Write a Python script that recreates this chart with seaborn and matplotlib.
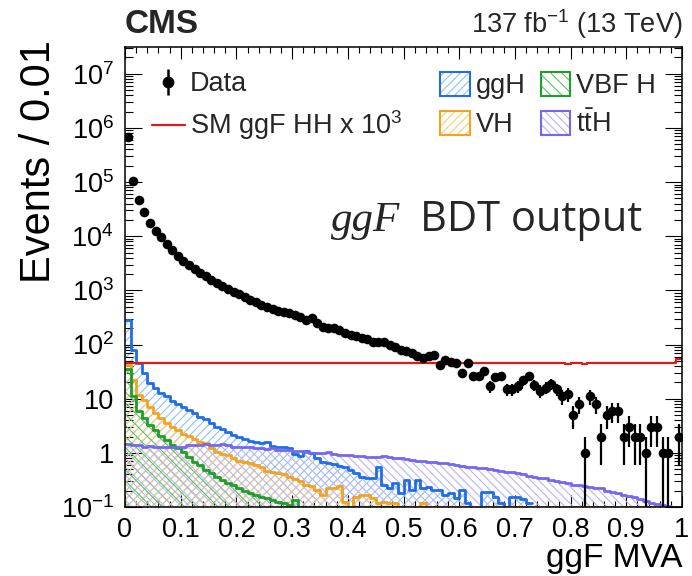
import numpy as np
import matplotlib
matplotlib.use("Agg")
import matplotlib.pyplot as plt
import matplotlib.ticker as mticker
from matplotlib.patches import Patch
from matplotlib.lines import Line2D
from matplotlib.legend_handler import HandlerTuple
import seaborn as sns

# ---- binning: 100 bins of width 0.01 on the ggF MVA score ----
bin_edges = np.linspace(0.0, 1.0, 101)
bin_centers = 0.5 * (bin_edges[:-1] + bin_edges[1:])

data_counts = [
    680000, 105000, 47000, 28000, 17500, 12300, 9500, 7270, 5470, 4360,
    3530, 2970, 2480, 2090, 1810, 1570, 1360, 1230, 1070, 942,
    840, 740, 670, 608, 542, 491, 451, 425, 402, 380,
    354, 321, 286, 303, 255, 215, 206, 204, 187, 164,
    151, 145, 133, 125, 110, 110, 113, 99, 89, 80,
    77, 71, 62, 56, 62, 64, 42, 51, 48, 46,
    30, 45, 26, 26, 33, 17, 25, 26, 15, 15,
    17, 22, 26, 18, 14, 16, 19, 15, 11, 12,
    5, 8, 1, 11, 8, 2, 5, 6, 6, 2,
    3, 2, 2, 1, 3, 3, 1, 1, 0, 2,
]

sm_hh_x1000 = [46.4] * 100
sm_hh_x1000[79] = 44.5
sm_hh_x1000[82] = 44.5
sm_hh_x1000[99] = 54.0

ggh = [
    286, 80, 46, 30, 19.4, 15.6, 12.6, 11, 9.2, 8,
    7, 6.2, 5.4, 4.5, 4.2, 3.5, 3.05, 2.73, 2.46, 2.14,
    1.94, 1.78, 1.66, 1.61, 1.55, 1.62, 1.34, 1.29, 1.27, 1.23,
    0.96, 0.87, 1.1, 1.0, 0.79, 0.69, 0.64, 0.62, 0.57, 0.54,
    0.48, 0.42, 0.36, 0.34, 0.34, 0.54, 0.25, 0.22, 0.28, 0.18,
    0.32, 0.21, 0.32, 0.22, 0.23, 0.21, 0.21, 0.17, 0.18, 0.145,
    0.21, 0.117, 0.05, 0.05, 0.19, 0.19, 0.15, 0.12, 0.05, 0.15,
    0.15, 0.14, 0.12, 0.12, 0, 0, 0, 0, 0, 0,
    0, 0, 0, 0, 0, 0, 0, 0, 0, 0,
    0, 0, 0, 0, 0, 0, 0, 0, 0, 0,
]

vh = [
    42, 22, 11.8, 9.5, 7.1, 5.4, 4.4, 3.6, 3.05, 2.66,
    2.24, 2.05, 1.78, 1.61, 1.5, 1.21, 1.05, 0.95, 0.91, 0.79,
    0.72, 0.69, 0.64, 0.6, 0.54, 0.47, 0.45, 0.42, 0.40, 0.36,
    0.33, 0.30, 0.25, 0.245, 0.21, 0.17, 0.22, 0.22, 0.24, 0.125,
    0.05, 0.15, 0.17, 0.17, 0.145, 0.117, 0.125, 0.12, 0.117, 0.1,
    0.05, 0.05, 0.05, 0.117, 0.05, 0.05, 0.05, 0.05, 0.05, 0.05,
    0.05, 0.05, 0.05, 0.05, 0.05, 0.05, 0.05, 0.05, 0.05, 0.05,
    0.05, 0.05, 0.05, 0.05, 0.05, 0.05, 0.05, 0.05, 0.05, 0.05,
    0.05, 0.05, 0.05, 0.05, 0.05, 0.05, 0.05, 0.05, 0.05, 0.05,
    0.05, 0.05, 0.05, 0.05, 0.05, 0.05, 0.05, 0.05, 0.05, 0.05,
]

vbf = [
    36, 11, 6, 4.4, 3.3, 2.66, 2.05, 1.73, 1.4, 1.21,
    1.05, 0.85, 0.69, 0.6, 0.48, 0.42, 0.36, 0.32, 0.28, 0.25,
    0.22, 0.2, 0.18, 0.17, 0.155, 0.145, 0.135, 0.125, 0.117, 0.11,
    0.135, 0.05, 0.05, 0.05, 0.05, 0.05, 0.05, 0.05, 0.05, 0.05,
    0.05, 0.05, 0.05, 0.05, 0.05, 0.05, 0.05, 0.05, 0.05, 0.05,
    0.05, 0, 0, 0, 0, 0, 0, 0, 0, 0,
    0, 0, 0, 0, 0, 0, 0, 0, 0, 0,
    0, 0, 0, 0, 0, 0, 0, 0, 0, 0,
    0, 0, 0, 0, 0, 0, 0, 0, 0, 0,
    0, 0, 0, 0, 0, 0, 0, 0, 0, 0,
]

tth = [
    1.46, 1.40, 1.40, 1.30, 1.35, 1.30, 1.30, 1.28, 1.28, 1.30,
    1.28, 1.40, 1.42, 1.40, 1.46, 1.42, 1.40, 1.46, 1.40, 1.30,
    1.30, 1.30, 1.28, 1.22, 1.21, 1.20, 1.21, 1.13, 1.13, 1.12,
    1.10, 1.10, 1.05, 1.00, 1.00, 1.00, 1.03, 0.95, 0.93, 0.93,
    0.92, 0.88, 0.86, 0.85, 0.85, 0.85, 0.88, 0.83, 0.82, 0.80,
    0.78, 0.74, 0.72, 0.70, 0.68, 0.67, 0.66, 0.64, 0.62, 0.59,
    0.56, 0.55, 0.54, 0.53, 0.52, 0.50, 0.48, 0.47, 0.45, 0.44,
    0.42, 0.40, 0.37, 0.36, 0.35, 0.35, 0.32, 0.30, 0.29, 0.28,
    0.26, 0.25, 0.24, 0.23, 0.22, 0.22, 0.20, 0.19, 0.18, 0.17,
    0.16, 0.155, 0.14, 0.13, 0.12, 0.115, 0.11, 0.105, 0.09, 0.08,
]

y_min, y_max = 0.1, 10 ** 7.5
y_major = [1e-1, 1, 10, 1e2, 1e3, 1e4, 1e5, 1e6, 1e7]
y_major_labels = [r"$10^{-1}$", "1", "10", r"$10^{2}$", r"$10^{3}$",
                  r"$10^{4}$", r"$10^{5}$", r"$10^{6}$", r"$10^{7}$"]
x_major = np.round(np.arange(0, 1.01, 0.1), 1)
x_major_labels = ["0", "0.1", "0.2", "0.3", "0.4", "0.5", "0.6", "0.7", "0.8", "0.9", "1"]

# ---- style ----
sns.set_theme(style="ticks")
plt.rcParams["font.family"] = ["Liberation Sans", "DejaVu Sans"]
plt.rcParams["mathtext.fontset"] = "custom"
plt.rcParams["mathtext.rm"] = "Liberation Sans"
plt.rcParams["mathtext.it"] = "Liberation Sans:italic"
plt.rcParams["mathtext.bf"] = "Liberation Sans:bold"
plt.rcParams["hatch.linewidth"] = 0.8

W, H = 692, 576
fig = plt.figure(figsize=(W / 100, H / 100), dpi=100)
ax_l, ax_r, ax_t, ax_b = 125, 682, 46.7, 507
ax = fig.add_axes([ax_l / W, 1 - ax_b / H, (ax_r - ax_l) / W, (ax_b - ax_t) / H])
ax.set_yscale("log")
ax.set_xlim(0, 1)
ax.set_ylim(y_min, y_max)


def step_values(vals):
    """Per-bin contents -> step heights; empty bins are skipped, tiny ones sit on the floor."""
    v = np.asarray(vals, dtype=float)
    v = np.where(v > 0, np.maximum(v, y_min), np.nan)
    return np.append(v, v[-1])


processes = [
    ("ggH", ggh, "#1f6ee6", "#8fc3f0", "////"),
    ("VH", vh, "#f5a21e", "#f6cd7c", "////"),
    ("VBF H", vbf, "#1e9e2a", "#5cc463", "\\\\\\"),
    (r"t$\bar{\mathrm{t}}$H", tth, "#7468ee", "#bab4f4", "\\\\\\\\"),
]

for i, (name, vals, line_c, hatch_c, hatch) in enumerate(processes):
    yv = step_values(vals)
    ax.fill_between(bin_edges, np.nan_to_num(yv, nan=y_min), y_min, step="post",
                    facecolor="none", edgecolor=hatch_c, hatch=hatch,
                    linewidth=0, zorder=2 + i)
    sns.lineplot(x=bin_edges, y=yv, drawstyle="steps-post", color=line_c,
                 linewidth=2.0, estimator=None, sort=False, ax=ax, zorder=6 + i)

# SM HH signal, scaled by 1000
sns.lineplot(x=bin_edges, y=step_values(sm_hh_x1000), drawstyle="steps-post",
             color="#e01a1a", linewidth=1.6, estimator=None, sort=False, ax=ax, zorder=11)

# data with Poisson (sqrt N) uncertainties
d = np.asarray(data_counts, dtype=float)
mask = d > 0
ax.errorbar(bin_centers[mask], d[mask], yerr=np.sqrt(d[mask]), fmt="none",
            ecolor="black", elinewidth=1.6, capsize=0, zorder=12)
sns.scatterplot(x=bin_centers[mask], y=d[mask], color="black", s=48,
                edgecolor="black", linewidth=0, ax=ax, zorder=13, legend=False)

# ---- axes decoration (ROOT-like inward ticks on all sides) ----
ax.yaxis.set_major_locator(mticker.FixedLocator(y_major))
ax.yaxis.set_major_formatter(mticker.FixedFormatter(y_major_labels))
ax.yaxis.set_minor_locator(mticker.LogLocator(base=10, subs=np.arange(2, 10), numticks=30))
ax.yaxis.set_minor_formatter(mticker.NullFormatter())
ax.xaxis.set_major_locator(mticker.FixedLocator(x_major))
ax.xaxis.set_major_formatter(mticker.FixedFormatter(x_major_labels))
ax.xaxis.set_minor_locator(mticker.MultipleLocator(0.02))

ax.tick_params(axis="both", which="both", direction="in", top=True, right=True,
               color="black", width=0.8, labelsize=19.5, labelcolor="black")
ax.tick_params(axis="x", which="major", length=8.6, pad=7)
ax.tick_params(axis="x", which="minor", length=4.3)
ax.tick_params(axis="y", which="major", length=12, pad=8)
ax.tick_params(axis="y", which="minor", length=6)
for s in ax.spines.values():
    s.set_linewidth(1.1)
    s.set_color("black")
    s.set_zorder(20)
ax.set_axisbelow(False)

ax.set_xlabel("ggF MVA", fontsize=24, loc="right", color="black")
ax.xaxis.set_label_coords(1.0, -(543 - ax_b) / (ax_b - ax_t))
ax.set_ylabel("Events / 0.01", fontsize=30, loc="top", color="black")
ax.yaxis.set_label_coords(-(ax_l - 59) / (ax_r - ax_l), 1.0 - (40 - ax_t) / (ax_b - ax_t))


def fy(py):
    return 1 - py / H


fig.text(ax_l / W, fy(33), "CMS", fontsize=24, fontweight="bold", ha="left", va="baseline")
fig.text(ax_r / W, fy(33), r"137 fb$^{-1}$ (13 TeV)", fontsize=19.5, ha="right", va="baseline")
fig.text(331 / W, fy(231), "ggF", fontsize=31, family="Liberation Serif", style="italic",
         ha="left", va="baseline")
fig.text(420 / W, fy(231), "BDT output", fontsize=30, family="Open Sans",
         ha="left", va="baseline")

# ---- legends ----
overlay = {tuple: HandlerTuple(ndivide=1)}
red_handle = Line2D([], [], color="#e01a1a", linewidth=1.6)
data_handle = (Line2D([0], [0], color="black", linewidth=0, marker="|", markersize=19,
                      markeredgewidth=1.8, linestyle="none"),
               Line2D([0], [0], color="black", marker="o", markersize=7.5, linestyle="none"))
leg1 = ax.legend([data_handle, red_handle], ["Data", r"SM ggF HH x 10$^{3}$"],
                 handler_map=overlay,
                 loc="upper left", bbox_to_anchor=(152 / W, fy(71)),
                 bbox_transform=fig.transFigure, frameon=False, fontsize=19.5,
                 handlelength=1.2, handletextpad=0.2, labelspacing=0.42, borderpad=0,
                 borderaxespad=0)
ax.add_artist(leg1)

proc_handles = []
for name, vals, line_c, hatch_c, hatch in processes:
    proc_handles.append((Patch(facecolor="none", edgecolor=hatch_c, hatch=hatch, linewidth=0),
                         Patch(facecolor="none", edgecolor=line_c, linewidth=1.5)))
leg2 = ax.legend(proc_handles, [p[0] for p in processes], ncol=2,
                 handler_map=overlay,
                 loc="upper left", bbox_to_anchor=(440 / W, fy(72)),
                 bbox_transform=fig.transFigure, frameon=False, fontsize=19.5,
                 handlelength=1.1, handleheight=1.0, handletextpad=0.22,
                 labelspacing=0.42, columnspacing=0.55, borderpad=0, borderaxespad=0)

fig.savefig("out.png", dpi=100)
